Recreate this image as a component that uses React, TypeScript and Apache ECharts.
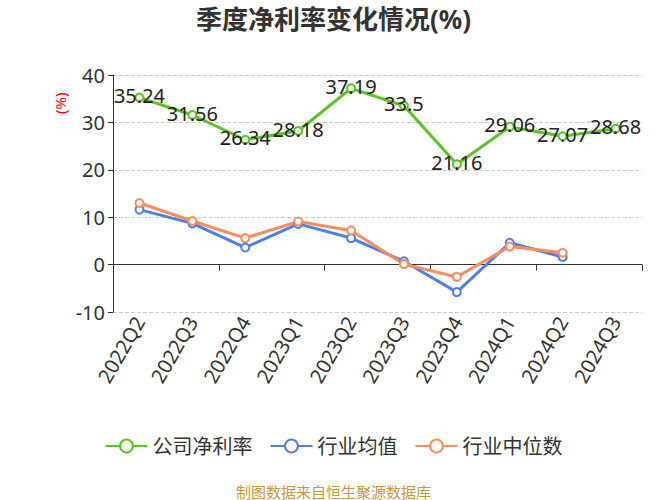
import React, { useEffect, useRef } from "react";
import * as echarts from "echarts";

const categories = ["2022Q2", "2022Q3", "2022Q4", "2023Q1", "2023Q2", "2023Q3", "2023Q4", "2024Q1", "2024Q2", "2024Q3"];
const companyNetMargin = [35.24, 31.56, 26.34, 28.18, 37.19, 33.5, 21.16, 29.06, 27.07, 28.68];
const industryMean = [11.6, 8.7, 3.6, 8.6, 5.6, 0.7, -5.8, 4.6, 1.6];
const industryMedian = [13.0, 9.2, 5.6, 9.1, 7.2, 0.1, -2.6, 3.8, 2.5];
const yTicks = { min: -10, max: 40, interval: 10 };

const FONT = "'Noto Sans', 'Noto Sans CJK SC', sans-serif";
const GREEN = "#5bc425";
const BLUE = "#4f80e8";
const ORANGE = "#ff8c5a";

export default function App() {
  const ref = useRef<HTMLDivElement>(null);
  useEffect(() => {
    document.body.style.margin = "0";
    if (!ref.current) return;
    const chart = echarts.init(ref.current, null, { renderer: "svg" });
    const lineSeries = (name: string, data: number[], color: string, withLabel: boolean) => ({
      name,
      type: "line",
      data,
      xAxisIndex: 0,
      symbol: "circle",
      symbolSize: 8,
      lineStyle: { color, width: 3 },
      itemStyle: { color: "#fff", borderColor: color, borderWidth: 2 },
      label: withLabel
        ? { show: true, position: "inside", offset: [0, -2], color: "#222", fontSize: 20, fontFamily: FONT }
        : { show: false },
      z: withLabel ? 3 : 2,
    });
    chart.setOption({
      animation: false,
      textStyle: { fontFamily: FONT },
      title: {
        text: "季度净利率变化情况(%)",
        left: "center",
        top: 1,
        textStyle: { fontSize: 26, fontWeight: "bold", color: "#333", fontFamily: FONT },
      },
      legend: {
        bottom: 39,
        left: "center",
        itemWidth: 42,
        itemHeight: 16,
        itemGap: 17,
        textStyle: { fontSize: 20, color: "#333", fontFamily: FONT },
        data: [
          { name: "公司净利率", itemStyle: { color: "#fff", borderColor: GREEN, borderWidth: 2 } },
          { name: "行业均值", itemStyle: { color: "#fff", borderColor: BLUE, borderWidth: 2 } },
          { name: "行业中位数", itemStyle: { color: "#fff", borderColor: ORANGE, borderWidth: 2 } },
        ],
      },
      graphic: [
        {
          type: "text",
          left: "center",
          bottom: 1,
          style: { text: "制图数据来自恒生聚源数据库", fontSize: 15, fill: "#c8993c", fontFamily: FONT },
        },
        {
          type: "text",
          x: 52,
          y: 114,
          rotation: Math.PI / 2,
          style: { text: "(%)", fontSize: 15, fill: "#ff0000", fontFamily: FONT },
        },
      ],
      grid: { left: 113, right: 25, top: 75, bottom: 188 },
      xAxis: [
        {
          type: "category",
          data: categories,
          boundaryGap: true,
          axisLine: { onZero: true, lineStyle: { color: "#333", width: 1 } },
          axisTick: { show: true, length: 6, lineStyle: { color: "#333" } },
          axisLabel: { show: false },
        },
        {
          type: "category",
          data: categories,
          position: "bottom",
          boundaryGap: true,
          axisLine: { show: false, onZero: false },
          axisTick: { show: false },
          axisLabel: { rotate: 60, fontSize: 20, color: "#333", margin: 6, fontFamily: FONT },
        },
      ],
      yAxis: {
        type: "value",
        min: yTicks.min,
        max: yTicks.max,
        interval: yTicks.interval,
        axisLine: { show: true, lineStyle: { color: "#333" } },
        axisTick: { show: true, length: 5, lineStyle: { color: "#333" } },
        axisLabel: { fontSize: 20, color: "#333", margin: 8, fontFamily: FONT },
        splitLine: { show: true, lineStyle: { type: "dashed", color: "#ccc" } },
      },
      series: [
        lineSeries("公司净利率", companyNetMargin, GREEN, true),
        lineSeries("行业均值", industryMean, BLUE, false),
        lineSeries("行业中位数", industryMedian, ORANGE, false),
      ],
    });
    return () => chart.dispose();
  }, []);
  return <div ref={ref} style={{ width: 667, height: 500 }} />;
}
